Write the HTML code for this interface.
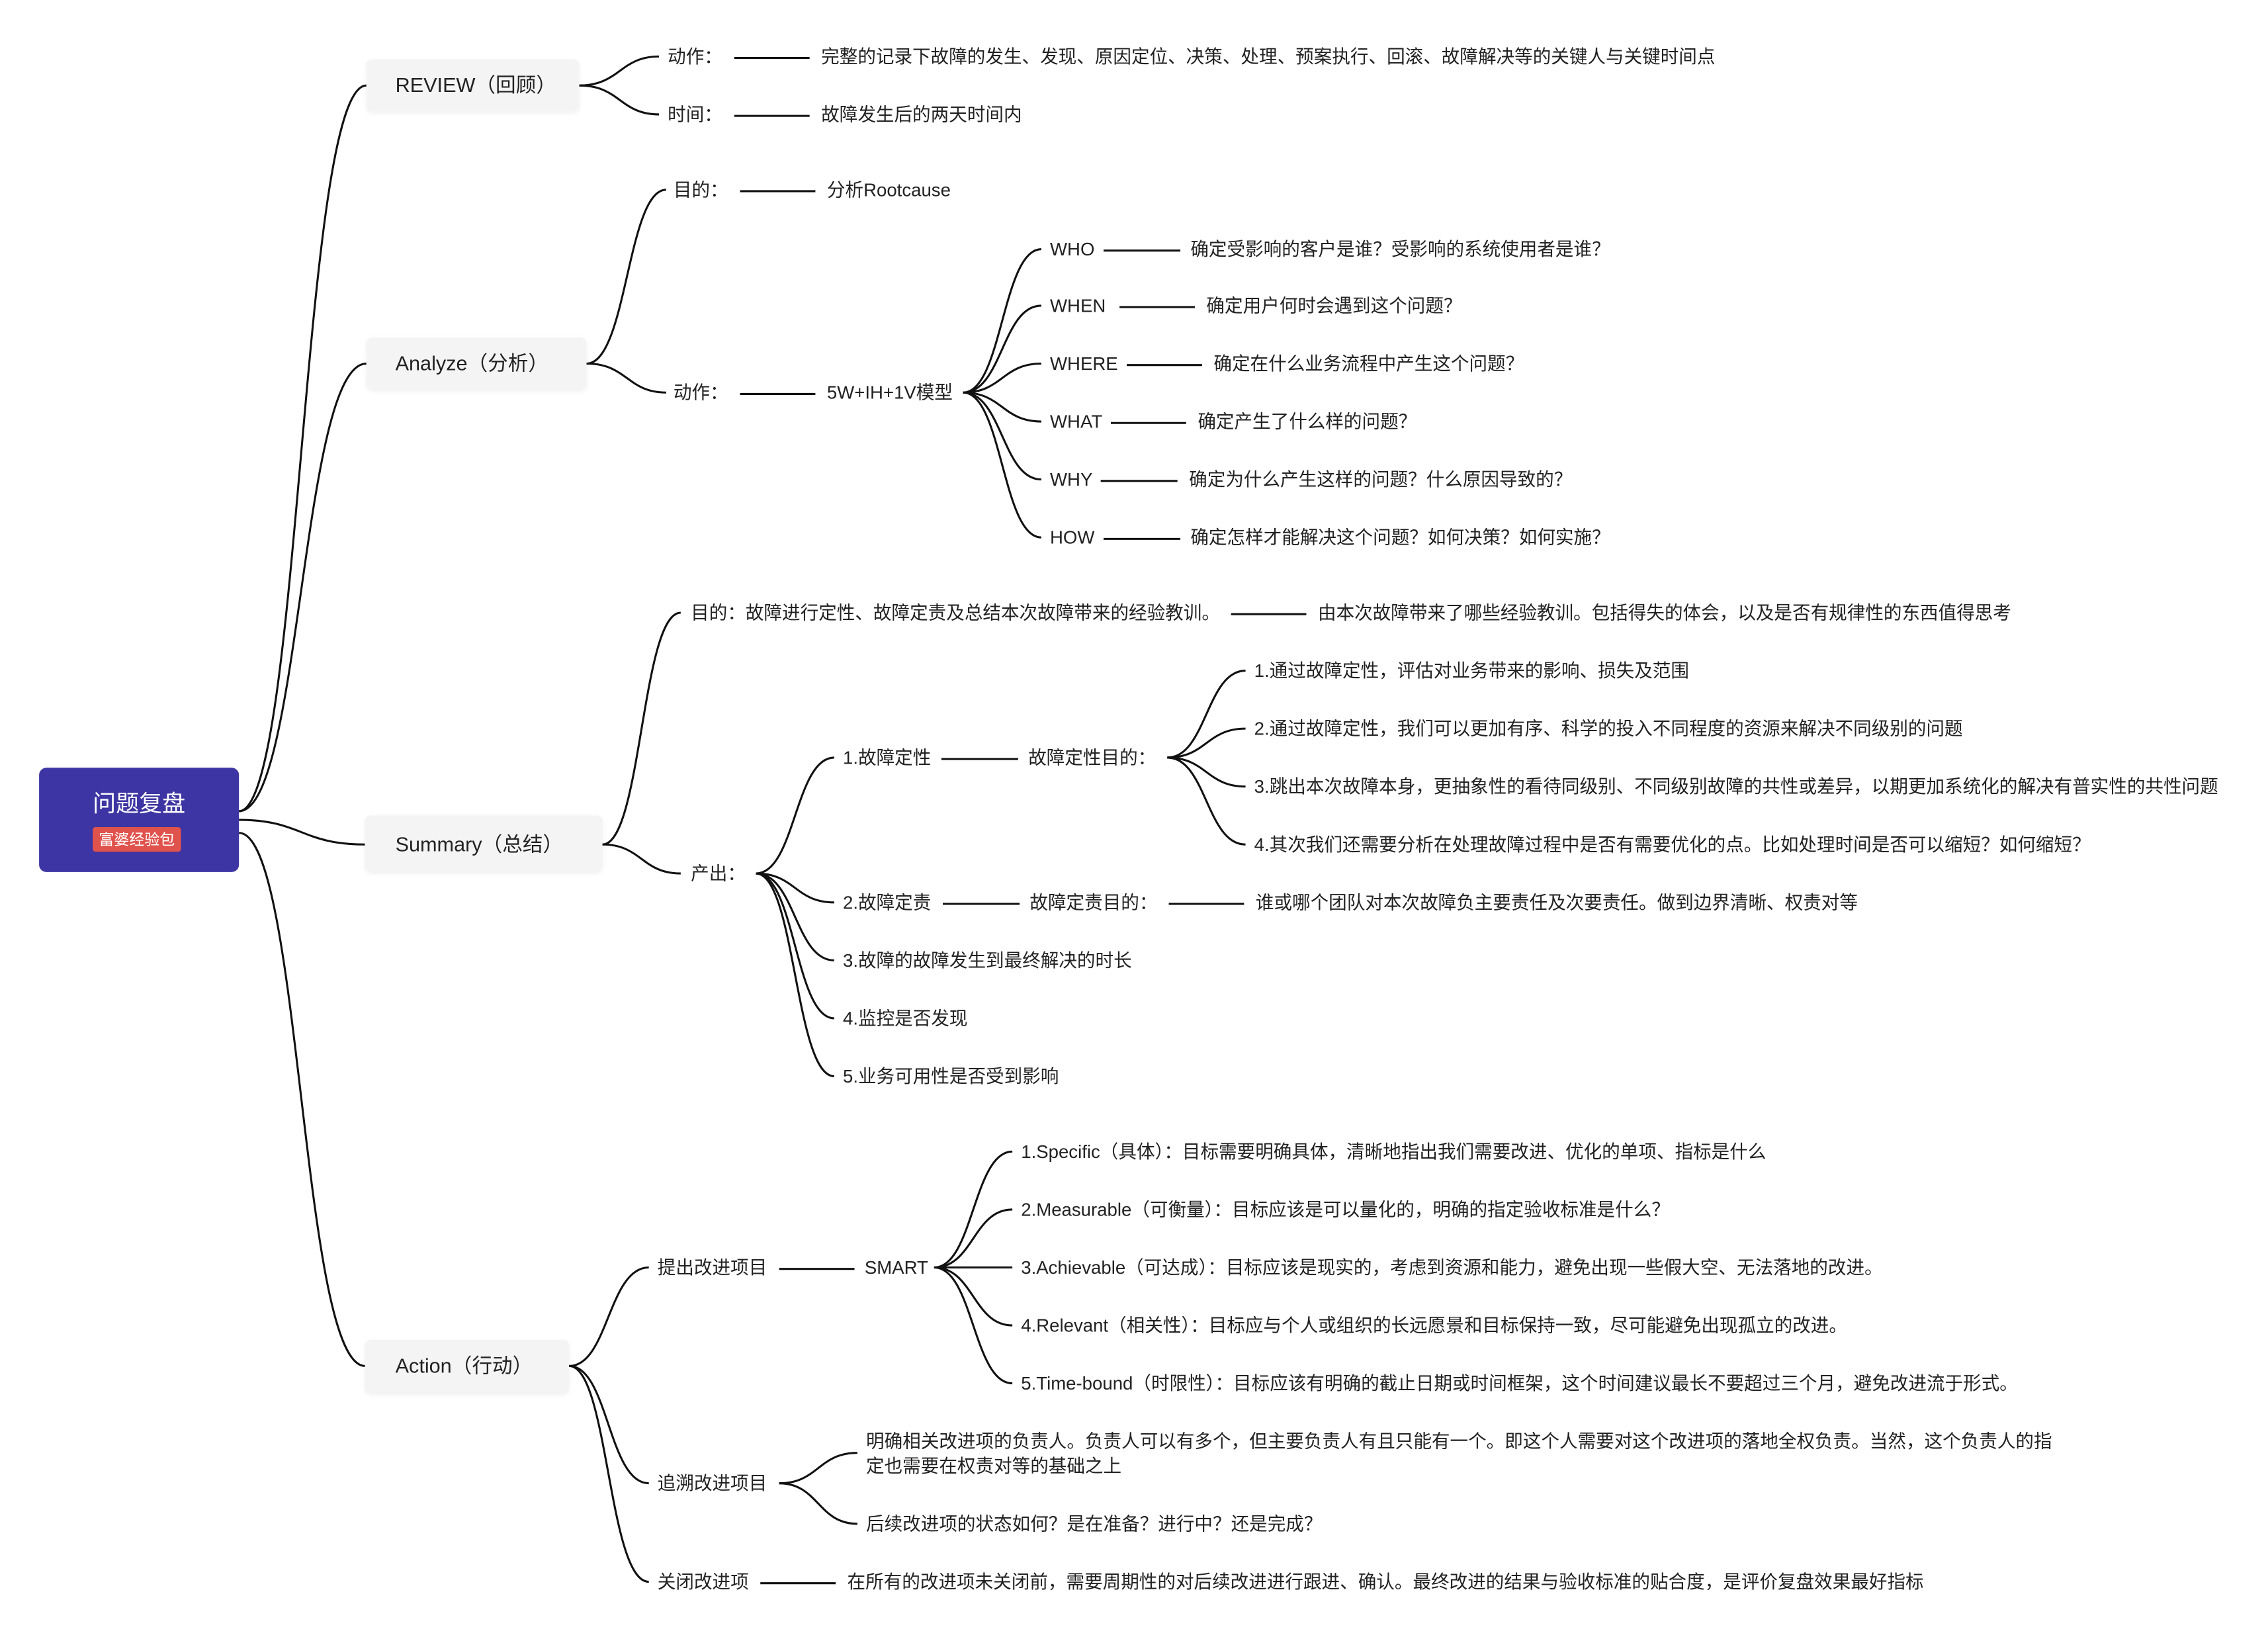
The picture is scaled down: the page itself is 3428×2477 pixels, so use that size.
<!DOCTYPE html>
<html><head><meta charset="utf-8"><style>
html,body{margin:0;padding:0;background:#fff;}
svg{display:block;}
text{font-family:"Liberation Sans","Noto Sans CJK SC",sans-serif;fill:#222;dominant-baseline:central;}
.s{font-size:12.6px;}
.b{font-size:14px;}
path,line{stroke:#111;stroke-width:1.4;fill:none;}
</style></head><body>
<svg width="3428" height="2477" viewBox="0 0 1566 1131.5" preserveAspectRatio="none" xmlns="http://www.w3.org/2000/svg">
<defs><filter id="sh" x="-10%" y="-20%" width="120%" height="140%"><feDropShadow dx="0" dy="1" stdDeviation="1.5" flood-color="#000" flood-opacity="0.06"/></filter></defs>
<path d="M165,560 C208,560 208,59 253,59"/>
<path d="M165,560 C208,560 208,251 253,251"/>
<path d="M165,566 C208,566 208,583 252,583"/>
<path d="M165,575 C208,575 208,943 252,943"/>
<rect x="27" y="530" width="138" height="72" rx="5" fill="#3d35a3"/>
<text x="96" y="555" text-anchor="middle" style="font-size:16px;fill:#fff">问题复盘</text>
<rect x="64" y="571" width="61" height="17" rx="2" fill="#e0524c"/>
<text x="94.5" y="579.5" text-anchor="middle" style="font-size:10.5px;fill:#fff">富婆经验包</text>
<rect x="253" y="41" width="147" height="36" rx="4" fill="#f4f4f5" filter="url(#sh)"/>
<text x="273" y="59" class="b">REVIEW（回顾）</text>
<rect x="253" y="233" width="152" height="36" rx="4" fill="#f4f4f5" filter="url(#sh)"/>
<text x="273" y="251" class="b">Analyze（分析）</text>
<rect x="252" y="563" width="164" height="39" rx="4" fill="#f4f4f5" filter="url(#sh)"/>
<text x="273" y="583" class="b">Summary（总结）</text>
<rect x="252" y="925" width="141" height="37" rx="4" fill="#f4f4f5" filter="url(#sh)"/>
<text x="273" y="943" class="b">Action（行动）</text>

<path d="M400,59 C428,59 428,39 455,39"/>
<path d="M400,59 C428,59 428,79 455,79"/>
<text x="461" y="39" class="s">动作：</text><line x1="507" y1="40" x2="559" y2="40"/>
<text x="567" y="39" class="s">完整的记录下故障的发生、发现、原因定位、决策、处理、预案执行、回滚、故障解决等的关键人与关键时间点</text>
<text x="461" y="79" class="s">时间：</text><line x1="507" y1="80" x2="559" y2="80"/>
<text x="567" y="79" class="s">故障发生后的两天时间内</text>

<path d="M405,251 C433,251 433,131 460,131"/>
<path d="M405,251 C433,251 433,271 460,271"/>
<text x="465" y="131" class="s">目的：</text><line x1="511" y1="132" x2="563" y2="132"/>
<text x="571" y="131" class="s">分析Rootcause</text>
<text x="465" y="271" class="s">动作：</text><line x1="511" y1="272" x2="563" y2="272"/>
<text x="571" y="271" class="s">5W+IH+1V模型</text>
<path d="M665,271 C692,271 692,172 719,172"/>
<path d="M665,271 C692,271 692,211 719,211"/>
<path d="M665,271 C692,271 692,251 719,251"/>
<path d="M665,271 C692,271 692,291 719,291"/>
<path d="M665,271 C692,271 692,331 719,331"/>
<path d="M665,271 C692,271 692,371 719,371"/>
<text x="725" y="172" class="s">WHO</text><line x1="762" y1="173" x2="815" y2="173"/><text x="822" y="172" class="s">确定受影响的客户是谁？受影响的系统使用者是谁？</text>
<text x="725" y="211" class="s">WHEN</text><line x1="773" y1="212" x2="825" y2="212"/><text x="833" y="211" class="s">确定用户何时会遇到这个问题？</text>
<text x="725" y="251" class="s">WHERE</text><line x1="778" y1="252" x2="830" y2="252"/><text x="838" y="251" class="s">确定在什么业务流程中产生这个问题？</text>
<text x="725" y="291" class="s">WHAT</text><line x1="767" y1="292" x2="819" y2="292"/><text x="827" y="291" class="s">确定产生了什么样的问题？</text>
<text x="725" y="331" class="s">WHY</text><line x1="760" y1="332" x2="813" y2="332"/><text x="821" y="331" class="s">确定为什么产生这样的问题？什么原因导致的？</text>
<text x="725" y="371" class="s">HOW</text><line x1="762" y1="372" x2="815" y2="372"/><text x="822" y="371" class="s">确定怎样才能解决这个问题？如何决策？如何实施？</text>

<path d="M416,583 C443,583 443,423 470,423"/>
<path d="M416,583 C443,583 443,603 470,603"/>
<text x="477" y="423" class="s">目的：故障进行定性、故障定责及总结本次故障带来的经验教训。</text>
<line x1="850" y1="424" x2="902" y2="424"/>
<text x="910" y="423" class="s">由本次故障带来了哪些经验教训。包括得失的体会，以及是否有规律性的东西值得思考</text>
<text x="477" y="603" class="s">产出：</text>
<path d="M522,603 C549,603 549,523 576,523"/>
<path d="M522,603 C549,603 549,623 576,623"/>
<path d="M522,603 C549,603 549,663 576,663"/>
<path d="M522,603 C549,603 549,703 576,703"/>
<path d="M522,603 C549,603 549,743 576,743"/>
<text x="582" y="523" class="s">1.故障定性</text><line x1="650" y1="524" x2="703" y2="524"/>
<text x="710" y="523" class="s">故障定性目的：</text>
<path d="M806,523 C833,523 833,463 860,463"/>
<path d="M806,523 C833,523 833,503 860,503"/>
<path d="M806,523 C833,523 833,543 860,543"/>
<path d="M806,523 C833,523 833,583 860,583"/>
<text x="866" y="463" class="s">1.通过故障定性，评估对业务带来的影响、损失及范围</text>
<text x="866" y="503" class="s">2.通过故障定性，我们可以更加有序、科学的投入不同程度的资源来解决不同级别的问题</text>
<text x="866" y="543" class="s">3.跳出本次故障本身，更抽象性的看待同级别、不同级别故障的共性或差异，以期更加系统化的解决有普实性的共性问题</text>
<text x="866" y="583" class="s">4.其次我们还需要分析在处理故障过程中是否有需要优化的点。比如处理时间是否可以缩短？如何缩短？</text>
<text x="582" y="623" class="s">2.故障定责</text><line x1="651" y1="624" x2="704" y2="624"/>
<text x="711" y="623" class="s">故障定责目的：</text><line x1="807" y1="624" x2="859" y2="624"/>
<text x="867" y="623" class="s">谁或哪个团队对本次故障负主要责任及次要责任。做到边界清晰、权责对等</text>
<text x="582" y="663" class="s">3.故障的故障发生到最终解决的时长</text>
<text x="582" y="703" class="s">4.监控是否发现</text>
<text x="582" y="743" class="s">5.业务可用性是否受到影响</text>

<path d="M393,943 C420,943 420,875 448,875"/>
<path d="M393,943 C420,943 420,1024 448,1024"/>
<path d="M393,943 C420,943 420,1092 448,1092"/>
<text x="454" y="875" class="s">提出改进项目</text><line x1="538" y1="876" x2="590" y2="876"/>
<text x="597" y="875" class="s">SMART</text>
<path d="M645,875 C672,875 672,795 699,795"/>
<path d="M645,875 C672,875 672,835 699,835"/>
<path d="M645,875 C672,875 672,875 699,875"/>
<path d="M645,875 C672,875 672,915 699,915"/>
<path d="M645,875 C672,875 672,955 699,955"/>
<text x="705" y="795" class="s">1.Specific（具体）：目标需要明确具体，清晰地指出我们需要改进、优化的单项、指标是什么</text>
<text x="705" y="835" class="s">2.Measurable（可衡量）：目标应该是可以量化的，明确的指定验收标准是什么？</text>
<text x="705" y="875" class="s">3.Achievable（可达成）：目标应该是现实的，考虑到资源和能力，避免出现一些假大空、无法落地的改进。</text>
<text x="705" y="915" class="s">4.Relevant（相关性）：目标应与个人或组织的长远愿景和目标保持一致，尽可能避免出现孤立的改进。</text>
<text x="705" y="955" class="s">5.Time-bound（时限性）：目标应该有明确的截止日期或时间框架，这个时间建议最长不要超过三个月，避免改进流于形式。</text>
<text x="454" y="1024" class="s">追溯改进项目</text>
<path d="M538,1024 C565,1024 565,1003 592,1003"/>
<path d="M538,1024 C565,1024 565,1052 592,1052"/>
<text x="598" y="995" class="s">明确相关改进项的负责人。负责人可以有多个，但主要负责人有且只能有一个。即这个人需要对这个改进项的落地全权负责。当然，这个负责人的指</text>
<text x="598" y="1012" class="s">定也需要在权责对等的基础之上</text>
<text x="598" y="1052" class="s">后续改进项的状态如何？是在准备？进行中？还是完成？</text>
<text x="454" y="1092" class="s">关闭改进项</text><line x1="525" y1="1093" x2="577" y2="1093"/>
<text x="585" y="1092" class="s">在所有的改进项未关闭前，需要周期性的对后续改进进行跟进、确认。最终改进的结果与验收标准的贴合度，是评价复盘效果最好指标</text>
</svg>
</body></html>
